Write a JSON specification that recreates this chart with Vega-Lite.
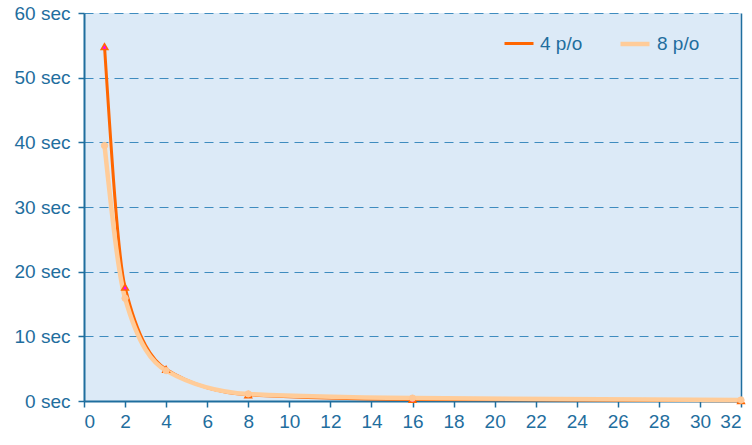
{
  "$schema": "https://vega.github.io/schema/vega-lite/v6.json",
  "width": 657,
  "height": 388,
  "autosize": {"type": "none"},
  "padding": {"left": 84, "top": 13, "right": 11, "bottom": 44},
  "background": "white",
  "config": {
    "view": {"fill": "#DCEAF7", "stroke": null},
    "font": "Liberation Sans",
    "axis": {
      "labelFont": "Liberation Sans",
      "labelFontSize": 19,
      "labelColor": "#1F6E9E",
      "domainColor": "#1F6E9E",
      "domainWidth": 2,
      "tickColor": "#1F6E9E",
      "tickWidth": 1.5,
      "tickSize": 6,
      "title": null
    }
  },
  "data": {
    "values": [
      {"n": 1, "t": 54.8, "s": "4 p/o"},
      {"n": 2, "t": 17.6, "s": "4 p/o"},
      {"n": 4, "t": 4.9, "s": "4 p/o"},
      {"n": 8, "t": 0.95, "s": "4 p/o"},
      {"n": 16, "t": 0.25, "s": "4 p/o"},
      {"n": 32, "t": 0.05, "s": "4 p/o"},
      {"n": 1, "t": 39.5, "s": "8 p/o"},
      {"n": 2, "t": 15.9, "s": "8 p/o"},
      {"n": 4, "t": 4.7, "s": "8 p/o"},
      {"n": 8, "t": 1.1, "s": "8 p/o"},
      {"n": 16, "t": 0.45, "s": "8 p/o"},
      {"n": 32, "t": 0.15, "s": "8 p/o"}
    ]
  },
  "resolve": {"axis": {"y": "independent"}},
  "layer": [
    {
      "mark": {"type": "line", "interpolate": "monotone", "clip": false},
      "encoding": {
        "x": {
          "field": "n", "type": "quantitative",
          "scale": {"domain": [0, 32], "nice": false},
          "axis": {"values": [0,2,4,6,8,10,12,14,16,18,20,22,24,26,28,30,32], "grid": false, "labelPadding": 5}
        },
        "y": {
          "field": "t", "type": "quantitative",
          "scale": {"domain": [0, 60], "nice": false},
          "axis": {
            "values": [0,10,20,30,40,50,60],
            "labelExpr": "datum.value + ' sec'",
            "grid": true,
            "gridColor": "#3F8CBF",
            "gridDash": [9, 6],
            "gridWidth": 1,
            "labelPadding": 8
          }
        },
        "color": {
          "field": "s", "type": "nominal",
          "scale": {"domain": ["4 p/o", "8 p/o"], "range": ["#FF6600", "#FFCC99"]},
          "legend": {
            "title": null,
            "orient": "none",
            "legendX": 419,
            "legendY": 14,
            "padding": 0,
            "direction": "horizontal",
            "symbolType": "stroke",
            "symbolSize": 841,
            "symbolStrokeWidth": 3.5,
            "labelFontSize": 19,
            "labelColor": "#1F6E9E",
            "labelFont": "Liberation Sans",
            "columnPadding": 28,
            "labelOffset": 5
          }
        },
        "strokeWidth": {
          "field": "s", "type": "nominal",
          "scale": {"domain": ["4 p/o", "8 p/o"], "range": [3, 4.5]},
          "legend": null
        }
      }
    },
    {
      "transform": [{"filter": "datum.s === '4 p/o'"}],
      "mark": {"type": "point", "shape": "triangle-up", "filled": true, "size": 45, "fill": "#FF00FF", "stroke": "#FF6600", "strokeWidth": 1.5, "opacity": 1, "clip": false},
      "encoding": {
        "x": {"field": "n", "type": "quantitative"},
        "y": {
          "field": "t", "type": "quantitative",
          "axis": {"orient": "right", "labels": false, "ticks": false, "grid": false, "domainWidth": 1.5, "values": []}
        }
      }
    },
    {
      "transform": [{"filter": "datum.s === '8 p/o'"}],
      "mark": {"type": "point", "shape": "circle", "filled": true, "size": 40, "fill": "#FFC896", "stroke": "#FFC896", "strokeWidth": 1, "opacity": 1, "clip": false},
      "encoding": {
        "x": {"field": "n", "type": "quantitative"},
        "y": {"field": "t", "type": "quantitative", "axis": null}
      }
    }
  ]
}
